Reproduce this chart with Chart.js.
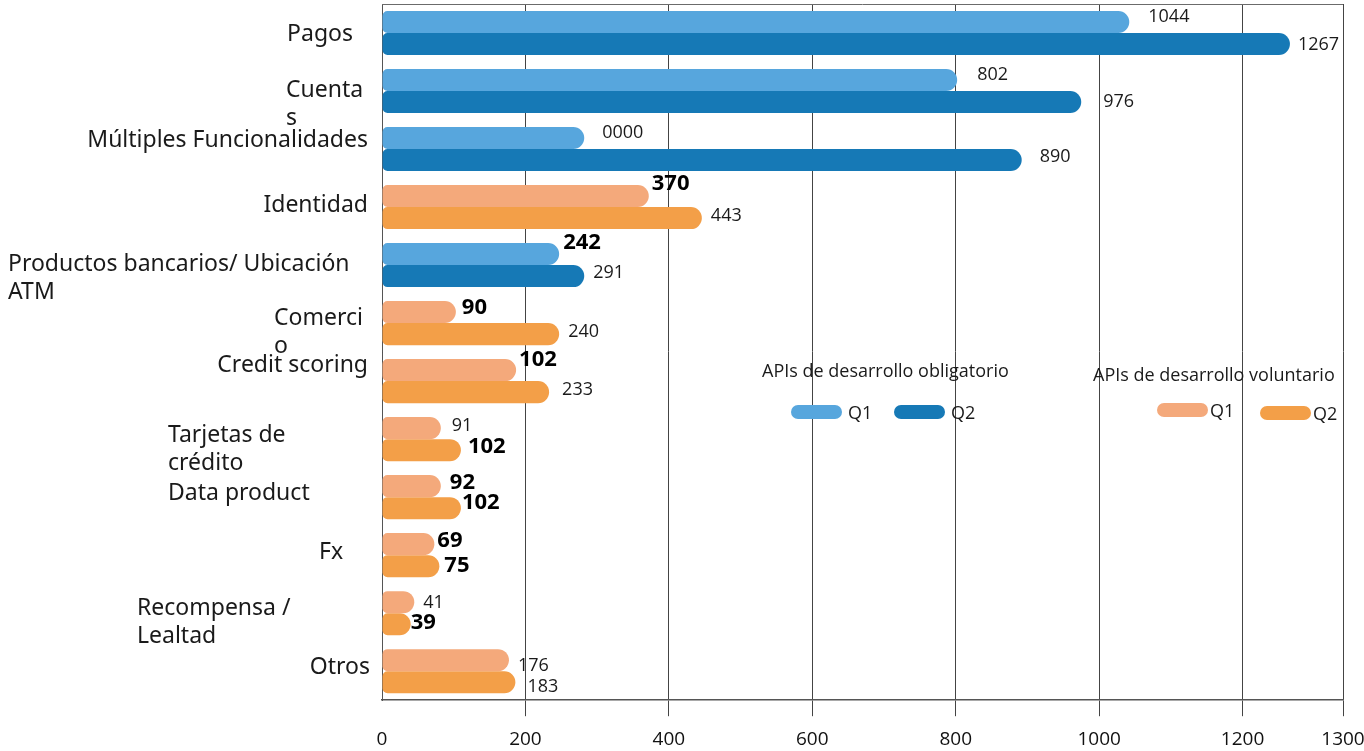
<!DOCTYPE html>
<html lang="es">
<head>
<meta charset="utf-8">
<title>APIs por categoría — Q1 / Q2</title>
<script src="https://cdn.jsdelivr.net/npm/chart.js@4.4.0/dist/chart.umd.min.js"></script>
<style>
  html, body { margin: 0; padding: 0; background: #fff; }
  #wrap { position: relative; width: 1364px; height: 751px; }
  #chart { display: block; }
  .lg-title { position: absolute; font: 18px "Open Sans", sans-serif; color: #1a1a1a; white-space: nowrap; line-height: 24px; }
  .lg-item { position: absolute; display: flex; align-items: center; font: 18px "Open Sans", sans-serif; color: #1a1a1a; line-height: 24px; }
  .pill { width: 51px; height: 14px; border-radius: 7px; margin-right: 6px; }
</style>
</head>
<body>
<div id="wrap">
  <canvas id="chart" width="1364" height="751"></canvas>

  <div class="lg-title" style="left:762px;top:358px;">APIs de desarrollo obligatorio</div>
  <div class="lg-item" style="left:791px;top:400px;"><span class="pill" style="background:#57A6DD"></span>Q1</div>
  <div class="lg-item" style="left:894px;top:400px;"><span class="pill" style="background:#1679B6"></span>Q2</div>

  <div class="lg-title" style="left:1093px;top:362px;">APIs de desarrollo voluntario</div>
  <div class="lg-item" style="left:1157px;top:398px;"><span class="pill" style="background:#F4A97B;margin-right:2px"></span>Q1</div>
  <div class="lg-item" style="left:1260px;top:401px;"><span class="pill" style="background:#F39F48;margin-right:2px"></span>Q2</div>
</div>

<script>
/* ── DATA ── */
const categories = [
  'Pagos', 'Cuentas', 'Múltiples Funcionalidades', 'Identidad',
  'Productos bancarios/ Ubicación ATM', 'Comercio', 'Credit scoring',
  'Tarjetas de crédito', 'Data product', 'Fx', 'Recompensa / Lealtad', 'Otros'
];
// how the category names are broken over lines in the picture
const categoryLines = [
  ['Pagos'], ['Cuenta', 's'], ['Múltiples Funcionalidades'], ['Identidad'],
  ['Productos bancarios/ Ubicación', 'ATM'], ['Comerci', 'o'], ['Credit scoring'],
  ['Tarjetas de', 'crédito'], ['Data product'], ['Fx'], ['Recompensa /', 'Lealtad'], ['Otros']
];
const apiType  = ['obl', 'obl', 'obl', 'vol', 'obl', 'vol', 'vol', 'vol', 'vol', 'vol', 'vol', 'vol'];

// bar lengths as drawn
const q1Values = [1042, 802, 282, 372, 247, 103, 187, 82, 82, 73, 45, 177];
const q2Values = [1266, 975, 892, 446, 282, 247, 233, 110, 110, 80, 40, 186];

// printed value labels
const q1Labels = ['1044', '802', '0000', '370', '242', '90', '102', '91', '92', '69', '41', '176'];
const q2Labels = ['1267', '976', '890', '443', '291', '240', '233', '102', '102', '75', '39', '183'];
const q1Bold   = [false, false, false, true, true, true, true, false, true, true, false, false];
const q2Bold   = [false, false, false, false, false, false, false, true, true, true, true, false];

const tickValues = [0, 200, 400, 600, 800, 1000, 1200, 1340];
const tickLabels = ['0', '200', '400', '600', '800', '1000', '1200', '1300'];

/* ── STYLE ── */
const COLORS = {
  obl: { q1: '#57A6DD', q2: '#1679B6' },
  vol: { q1: '#F4A97B', q2: '#F39F48' }
};
const GRID = '#444444';

// label nudges (px) relative to the bar end / bar centre
const q1Nudge = [[19,-5],[20,-5],[18,-5],[3,-12],[4,-11],[6,-4],[3,-10],[11,-2],[9,-3],[3,-3],[9,1],[9,6]];
const q2Nudge = [[8,1],[22,0],[18,-3],[9,-2],[9,-3],[9,-2],[13,-2],[7,-3],[1,-5],[5,0],[0,-1],[12,5]];

// category name placement: right-aligned at x, or left-aligned from x
const catLayout = [
  { align: 'right', x: 353, dy: 1 },
  { align: 'left',  x: 286, dy: -1 },
  { align: 'right', x: 368, dy: -9 },
  { align: 'right', x: 368, dy: -2 },
  { align: 'left',  x: 8,   dy: -1 },
  { align: 'left',  x: 274, dy: -5 },
  { align: 'right', x: 368, dy: -16 },
  { align: 'left',  x: 168, dy: -4 },
  { align: 'left',  x: 168, dy: -4 },
  { align: 'left',  x: 319, dy: -3 },
  { align: 'left',  x: 137, dy: -5 },
  { align: 'right', x: 370, dy: -4 }
];

/* ── PLUGINS ── */
const frameTop = {
  id: 'frameTop',
  afterDraw(chart) {
    const { ctx, chartArea: a } = chart;
    ctx.save();
    ctx.strokeStyle = '#6b6b6b';
    ctx.lineWidth = 1;
    ctx.beginPath();
    ctx.moveTo(a.left, a.top + 0.5);
    ctx.lineTo(a.right, a.top + 0.5);
    ctx.stroke();
    ctx.restore();
  }
};

const categoryNames = {
  id: 'categoryNames',
  afterDraw(chart) {
    const { ctx } = chart;
    const y = chart.scales.y;
    ctx.save();
    ctx.font = '23px "Noto Sans", Lato, sans-serif';
    ctx.fillStyle = '#1a1a1a';
    ctx.textBaseline = 'middle';
    categoryLines.forEach((lines, i) => {
      const lay = catLayout[i];
      const cy = y.getPixelForValue(i) + lay.dy;
      ctx.textAlign = lay.align;
      lines.forEach((t, k) => ctx.fillText(t, lay.x, cy + k * 28));
    });
    ctx.restore();
  }
};

const valueLabels = {
  id: 'valueLabels',
  afterDatasetsDraw(chart) {
    const { ctx } = chart;
    const sets = [
      { labels: q1Labels, bold: q1Bold, nudge: q1Nudge },
      { labels: q2Labels, bold: q2Bold, nudge: q2Nudge }
    ];
    ctx.save();
    ctx.textAlign = 'left';
    ctx.textBaseline = 'middle';
    sets.forEach((s, d) => {
      chart.getDatasetMeta(d).data.forEach((bar, i) => {
        if (s.bold[i]) {
          ctx.font = 'bold 22px "Open Sans", sans-serif';
          ctx.fillStyle = '#000';
        } else {
          ctx.font = '18px "Open Sans", sans-serif';
          ctx.fillStyle = '#1a1a1a';
        }
        ctx.fillText(s.labels[i], bar.x + s.nudge[i][0], bar.y + s.nudge[i][1]);
      });
    });
    ctx.restore();
  }
};

/* ── CHART ── */
const barShape = {
  borderSkipped: false,
  borderRadius: { topLeft: 5, bottomLeft: 5, topRight: 11, bottomRight: 11 },
  barPercentage: 1,
  categoryPercentage: 0.76
};

new Chart(document.getElementById('chart'), {
  type: 'bar',
  data: {
    labels: categories,
    datasets: [
      { label: 'Q1', data: q1Values, backgroundColor: apiType.map(t => COLORS[t].q1), ...barShape },
      { label: 'Q2', data: q2Values, backgroundColor: apiType.map(t => COLORS[t].q2), ...barShape }
    ]
  },
  options: {
    indexAxis: 'y',
    responsive: false,
    animation: false,
    layout: { padding: { left: 374, right: 21, top: 4, bottom: -12 } },
    plugins: { legend: { display: false }, tooltip: { enabled: false } },
    scales: {
      x: {
        min: 0,
        max: 1340,
        afterBuildTicks: s => { s.ticks = tickValues.map(v => ({ value: v })); },
        afterFit: s => { s.paddingRight = 0; },
        grid: {
          color: GRID,
          lineWidth: 1,
          drawTicks: true,
          tickLength: 16,
          tickColor: c => (c.index === 0 ? 'rgba(0,0,0,0)' : GRID)
        },
        border: { display: true, color: '#555555', width: 1.5 },
        ticks: {
          autoSkip: false,
          maxRotation: 0,
          padding: 12,
          color: '#111',
          font: { family: '"Open Sans", sans-serif', size: 19 },
          callback: (v, i) => tickLabels[i]
        }
      },
      y: {
        grid: { display: false },
        border: { display: true, color: '#555555', width: 1 },
        ticks: { display: false }
      }
    }
  },
  plugins: [frameTop, categoryNames, valueLabels]
});
</script>
</body>
</html>
